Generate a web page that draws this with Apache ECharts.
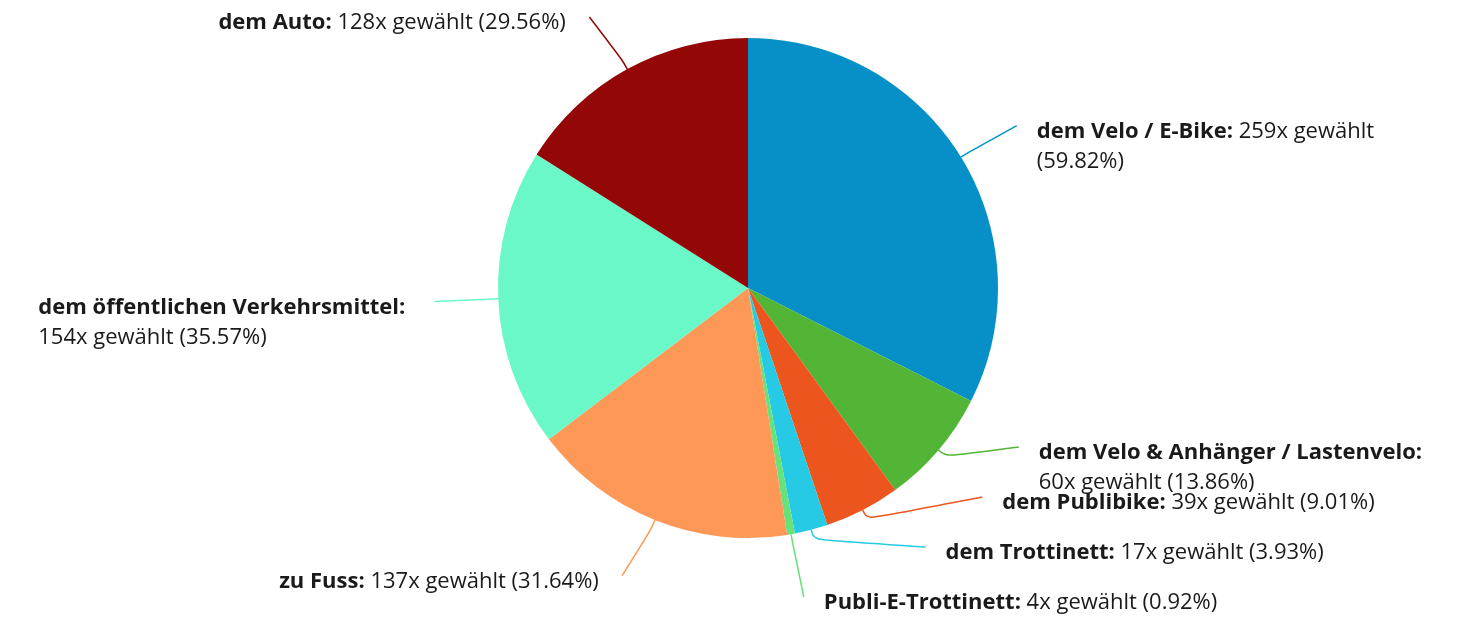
<!DOCTYPE html>
<html>
<head>
<meta charset="utf-8">
<script src="https://cdn.jsdelivr.net/npm/echarts@6/dist/echarts.min.js"></script>
<style>
  html, body { margin: 0; padding: 0; background: #fff; }
  #chart { width: 1462px; height: 618px; }
</style>
</head>
<body>
<div id="chart"></div>
<script>
// Verkehrsmittel (Mehrfachauswahl), Anzahl Nennungen
const categories = [
  'dem Velo / E-Bike',
  'dem Velo & Anhänger / Lastenvelo',
  'dem Publibike',
  'dem Trottinett',
  'Publi-E-Trottinett',
  'zu Fuss',
  'dem öffentlichen Verkehrsmittel',
  'dem Auto'
];
const counts = [259, 60, 39, 17, 4, 137, 154, 128];
// Anzahl Antwortende (Basis der Prozentangaben)
const respondents = 433;
const colors = ['#0790c8', '#52b535', '#ec561e', '#27cae4', '#66e27a', '#fe9857', '#6bf8c8', '#930707'];

// ---- geometry / label style ----
const WIDTH = 1462;
const CX = 748, CY = 288, RADIUS = 250;
const LABEL_RADIUS_Y = 310; // label height follows the slice angle on this circle
const LABEL_RADIUS_X = 314; // connector ends lie on this circle
const GAP_RIGHT = 20, GAP_LEFT = 22; // connector end -> text
const LABEL_SLOT = 50;      // min. vertical distance between connector ends
const LABEL_TOP = 17, LABEL_BOTTOM = 597;
const SIDE_MARGIN = 20;
const FONT = '"Open Sans"';
const FONT_SIZE = 22, LINE_HEIGHT = 30;
const TEXT_COLOR = '#1a1a1a';

// text measuring (same fonts as the labels)
const ctx = document.createElement('canvas').getContext('2d');
function measure(str, bold) {
  ctx.font = (bold ? 'bold ' : '') + FONT_SIZE + 'px ' + FONT;
  return ctx.measureText(str).width;
}

// connector end points: each label sits at its slice angle,
// labels on one side are then spread so they keep LABEL_SLOT apart
const total = counts.reduce((a, b) => a + b, 0);
let acc = 0;
const labels = counts.map((v, i) => {
  const mid = (acc + v / 2) / total * Math.PI * 2;
  acc += v;
  const s = Math.sin(mid), c = Math.cos(mid);
  return { i, s, c, side: s >= 0 ? 1 : -1, y: CY - LABEL_RADIUS_Y * c };
});
function distribute(items) {
  items.sort((a, b) => a.y - b.y);
  items.forEach(it => { it.y = Math.min(Math.max(it.y, LABEL_TOP), LABEL_BOTTOM); });
  for (let k = 1; k < items.length; k++) {
    items[k].y = Math.max(items[k].y, items[k - 1].y + LABEL_SLOT);
  }
  for (let k = items.length - 1; k >= 0; k--) {
    const limit = k === items.length - 1 ? LABEL_BOTTOM : items[k + 1].y - LABEL_SLOT;
    items[k].y = Math.min(items[k].y, limit);
  }
}
distribute(labels.filter(l => l.side > 0));
distribute(labels.filter(l => l.side < 0));

// label text, wrapped at word boundaries into the room left to the chart edge
labels.forEach(l => {
  const dy = l.y - CY;
  l.xEnd = CX + l.side * Math.sqrt(Math.max(0, LABEL_RADIUS_X * LABEL_RADIUS_X - dy * dy));
  l.xText = l.xEnd + l.side * (l.side > 0 ? GAP_RIGHT : GAP_LEFT);
  const room = l.side > 0 ? WIDTH - SIDE_MARGIN - l.xText : l.xText - SIDE_MARGIN;

  const pct = (counts[l.i] / respondents * 100).toFixed(2);
  const words = [];
  (categories[l.i] + ':').split(' ').forEach(t => words.push({ t, bold: true }));
  (counts[l.i] + 'x gewählt (' + pct + '%)').split(' ').forEach(t => words.push({ t, bold: false }));

  const join = (ws, bold) => ws.filter(w => w.bold === bold).map(w => w.t).join(' ');
  const lineWidth = ws => {
    const b = join(ws, true), n = join(ws, false);
    return (b ? measure(b, true) : 0) + (n ? measure((b ? ' ' : '') + n, false) : 0);
  };
  const lines = [[]];
  words.forEach(w => {
    const cur = lines[lines.length - 1];
    if (cur.length && lineWidth(cur.concat([w])) > room) lines.push([w]);
    else cur.push(w);
  });
  // a wrapped line keeps its trailing space inside the text box
  const widths = lines.map((ws, k) => lineWidth(ws) +
    (k < lines.length - 1 ? measure(' ', ws[ws.length - 1].bold) : 0));
  l.width = Math.ceil(Math.max(...widths)) + 1;
  l.text = lines.map(ws => {
    const b = join(ws, true), n = join(ws, false);
    return (b ? '{b|' + b + '}' : '') + (n ? '{n|' + (b ? ' ' : '') + n + '}' : '');
  }).join('\n');
});
const labelByIndex = [];
labels.forEach(l => { labelByIndex[l.i] = l; });

const chart = echarts.init(document.getElementById('chart'));

const data = categories.map((name, i) => ({
  name,
  value: counts[i],
  itemStyle: { color: colors[i] },
  label: { width: labelByIndex[i].width },
  labelLine: { lineStyle: { color: colors[i] } }
}));

chart.setOption({
  animation: false,
  series: [{
    type: 'pie',
    center: [CX, CY],
    radius: RADIUS,
    startAngle: 90,
    clockwise: true,
    data,
    itemStyle: { borderWidth: 0 },
    label: {
      show: true,
      position: 'outside',
      overflow: 'none',
      fontFamily: FONT,
      fontSize: FONT_SIZE,
      lineHeight: LINE_HEIGHT,
      color: TEXT_COLOR,
      formatter: p => labelByIndex[p.dataIndex].text,
      rich: {
        b: { fontWeight: 'bold', fontFamily: FONT, fontSize: FONT_SIZE, lineHeight: LINE_HEIGHT, color: TEXT_COLOR, align: 'left' },
        n: { fontFamily: FONT, fontSize: FONT_SIZE, lineHeight: LINE_HEIGHT, color: TEXT_COLOR, align: 'left' }
      }
    },
    labelLine: {
      show: true,
      smooth: 0.45,
      lineStyle: { width: 1.5 }
    },
    // soft connector: short radial piece off the slice, then on to the text
    labelLayout: params => {
      const l = labelByIndex[params.dataIndex];
      const p0 = params.labelLinePoints ? params.labelLinePoints[0]
        : [CX + RADIUS * l.s, CY - RADIUS * l.c];
      const bend = [CX + (RADIUS + 10) * l.s, CY - (RADIUS + 10) * l.c];
      return {
        x: l.xText,
        y: l.y - 9,
        align: l.side > 0 ? 'left' : 'right',
        verticalAlign: 'top',
        labelLinePoints: [p0, bend, [l.xEnd, l.y]]
      };
    }
  }]
});
</script>
</body>
</html>
